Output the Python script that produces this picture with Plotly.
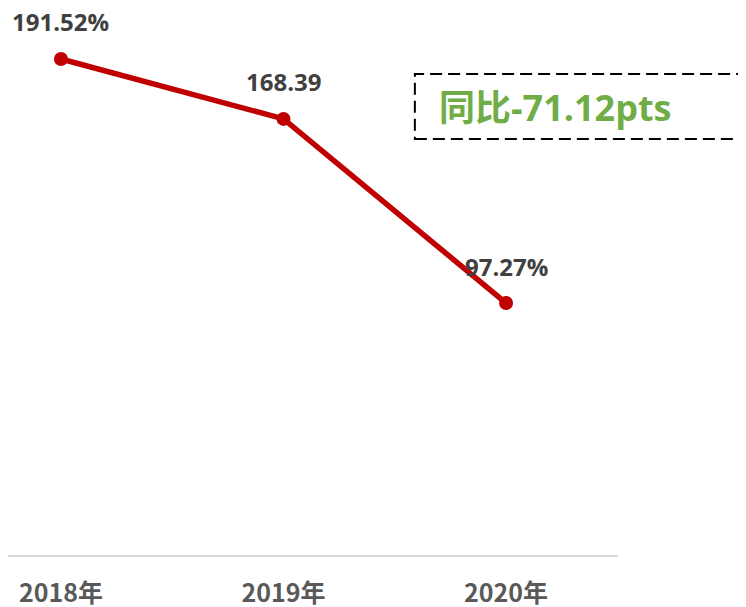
import plotly.graph_objects as go

years = ["2018年", "2019年", "2020年"]
values = [191.52, 168.39, 97.27]
value_labels = ["191.52%", "168.39", "97.27%"]
change_text = "同比-71.12pts"

FONT = "Open Sans, Noto Sans CJK SC, sans-serif"

fig = go.Figure()

fig.add_trace(
    go.Scatter(
        x=years,
        y=values,
        mode="lines+markers",
        line=dict(color="#C00000", width=5.5),
        marker=dict(color="#C00000", size=14),
        hoverinfo="skip",
    )
)

# data labels above each point
for yr, v, lab in zip(years, values, value_labels):
    fig.add_annotation(
        x=yr, y=v, text=f"<b>{lab}</b>", showarrow=False,
        yshift=37, font=dict(family=FONT, size=24, color="#404040"),
    )

# dashed callout box, runs off the right edge
fig.add_shape(
    type="rect", xref="paper", yref="paper",
    x0=0.667, x1=1.3, y0=0.7605, y1=0.8793,
    line=dict(color="black", width=2, dash="12px,6px"),
)
fig.add_annotation(
    xref="paper", yref="paper", x=0.703, y=0.819,
    xanchor="left", yanchor="middle", showarrow=False,
    text=f"<b>{change_text}</b>",
    font=dict(family=FONT, size=36, color="#70AD47"),
)

fig.update_xaxes(
    type="category",
    range=[-0.238, 2.503],
    showline=True, linecolor="#D9D9D9", linewidth=2,
    showgrid=False, ticks="", automargin=False,
    tickfont=dict(family="Noto Sans CJK SC", size=25, color="#595959", weight="bold"),
    ticklabelstandoff=15,
)
fig.update_yaxes(
    range=[0, 211.2], visible=False, showgrid=False, zeroline=False,
)

# page has an 8px body margin, so keep the figure inside the window
fig.update_layout(
    width=738, height=599,
    margin=dict(l=0, r=128, t=0, b=52),
    plot_bgcolor="white", paper_bgcolor="white",
    showlegend=False,
)

fig.write_html("out.html")
